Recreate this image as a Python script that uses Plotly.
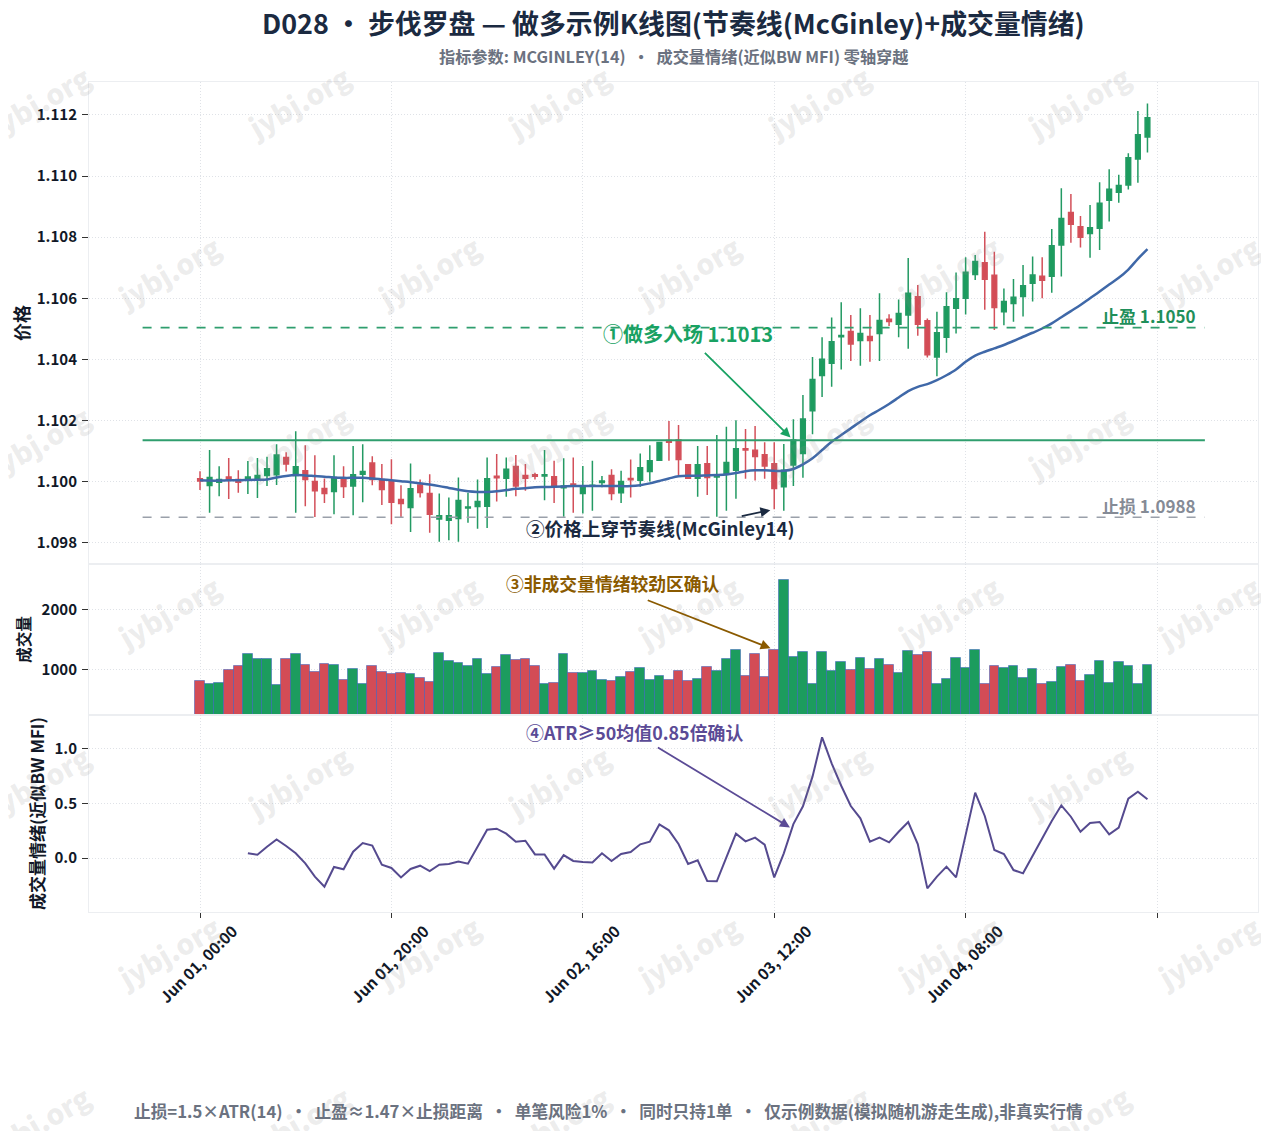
import plotly.graph_objects as go
from plotly.subplots import make_subplots

FONT = "Noto Sans CJK SC"

opens = [1.10009,1.09987,1.09998,1.10015,1.10007,1.10007,1.10007,1.10020,1.10022,1.10079,
1.10020,1.10035,1.10000,1.09977,1.09967,1.10008,1.09985,1.10024,1.10061,1.10007,
1.10000,1.09941,1.09915,1.09989,1.09961,1.09877,1.09873,1.09879,1.09913,1.09918,
1.09919,1.10017,1.10011,1.10049,1.10020,1.10022,1.10018,1.10016,1.09980,1.09992,
1.09961,1.09985,1.09997,1.10020,1.09963,1.10010,1.10004,1.10033,1.10070,1.10134,
1.10136,1.10055,1.10011,1.10058,1.10015,1.10024,1.10037,1.10107,1.10102,1.10088,
1.10058,1.09983,1.10054,1.10092,1.10232,1.10347,1.10387,1.10474,1.10491,1.10462,
1.10475,1.10485,1.10531,1.10515,1.10545,1.10605,1.10526,1.10408,1.10472,1.10567,
1.10600,1.10678,1.10716,1.10675,1.10556,1.10583,1.10606,1.10649,1.10672,1.10672,
1.10774,1.10881,1.10834,1.10812,1.10829,1.10921,1.10947,1.10971,1.11056,1.11128]
closes = [1.10002,1.10013,1.10007,1.10004,1.09998,1.10015,1.10020,1.10042,1.10087,1.10057,
1.10048,1.10007,1.09970,1.09961,1.10013,1.09984,1.10022,1.10033,1.10007,1.09974,
1.09932,1.09928,1.09976,1.09964,1.09893,1.09888,1.09888,1.09938,1.09917,1.09935,
1.10009,1.10012,1.10040,1.09985,1.10011,1.10017,1.10022,1.09983,1.09985,1.09987,
1.09985,1.09988,1.10002,1.09961,1.10000,1.10006,1.10045,1.10068,1.10128,1.10129,
1.10072,1.10011,1.10055,1.10013,1.10021,1.10062,1.10107,1.10103,1.10082,1.10051,
1.09977,1.10037,1.10136,1.10205,1.10334,1.10400,1.10458,1.10478,1.10450,1.10485,
1.10462,1.10527,1.10524,1.10550,1.10616,1.10515,1.10415,1.10487,1.10572,1.10598,
1.10685,1.10720,1.10662,1.10570,1.10589,1.10603,1.10641,1.10676,1.10659,1.10772,
1.10861,1.10842,1.10800,1.10831,1.10911,1.10957,1.10969,1.11060,1.11135,1.11191]
highs = [1.10034,1.10103,1.10050,1.10077,1.10037,1.10067,1.10077,1.10081,1.10122,1.10096,
1.10165,1.10119,1.10086,1.10010,1.10086,1.10050,1.10116,1.10122,1.10083,1.10057,
1.10073,1.09988,1.10059,1.10007,1.10024,1.09961,1.09948,1.10013,1.09963,1.10007,
1.10079,1.10090,1.10079,1.10087,1.10057,1.10029,1.10103,1.10068,1.10076,1.10079,
1.10051,1.10068,1.10018,1.10040,1.10035,1.10072,1.10092,1.10119,1.10130,1.10198,
1.10185,1.10055,1.10116,1.10116,1.10152,1.10179,1.10201,1.10172,1.10182,1.10129,
1.10129,1.10123,1.10204,1.10283,1.10408,1.10472,1.10537,1.10587,1.10545,1.10567,
1.10545,1.10616,1.10548,1.10596,1.10732,1.10643,1.10534,1.10556,1.10620,1.10684,
1.10734,1.10742,1.10818,1.10752,1.10632,1.10663,1.10709,1.10737,1.10734,1.10827,
1.10960,1.10941,1.10869,1.10905,1.10980,1.11022,1.11004,1.11075,1.11213,1.11238]
lows = [1.09972,1.09898,1.09952,1.09943,1.09963,1.09959,1.09946,1.09985,1.09989,1.10033,
1.09898,1.09919,1.09884,1.09930,1.09893,1.09946,1.09890,1.09932,1.09988,1.09923,
1.09860,1.09882,1.09835,1.09948,1.09832,1.09803,1.09808,1.09803,1.09865,1.09845,
1.09848,1.09935,1.09950,1.09952,1.09970,1.10007,1.09939,1.09930,1.09885,1.09898,
1.09895,1.09904,1.09981,1.09939,1.09930,1.09948,1.09983,1.10000,1.10068,1.10068,
1.10020,1.10009,1.09950,1.09956,1.09885,1.09904,1.09944,1.10009,1.10003,1.10009,
1.09909,1.09904,1.09985,1.10012,1.10155,1.10277,1.10310,1.10367,1.10395,1.10379,
1.10392,1.10395,1.10509,1.10472,1.10435,1.10477,1.10406,1.10345,1.10422,1.10485,
1.10547,1.10660,1.10562,1.10496,1.10512,1.10523,1.10540,1.10589,1.10600,1.10618,
1.10671,1.10782,1.10766,1.10733,1.10758,1.10851,1.10913,1.10956,1.10978,1.11077]
mcginley = [1.10004,1.10003,1.10003,1.10004,1.10004,1.10005,1.10006,1.10007,1.10013,1.10018,
1.10021,1.10020,1.10018,1.10016,1.10013,1.10012,1.10012,1.10012,1.10010,1.10007,
1.10004,1.10001,1.09998,1.09994,1.09990,1.09985,1.09979,1.09973,1.09968,1.09966,
1.09966,1.09968,1.09972,1.09976,1.09978,1.09981,1.09982,1.09983,1.09984,1.09985,
1.09985,1.09985,1.09985,1.09985,1.09985,1.09985,1.09988,1.09994,1.10002,1.10010,
1.10017,1.10019,1.10019,1.10020,1.10021,1.10023,1.10028,1.10034,1.10037,1.10037,
1.10035,1.10035,1.10041,1.10056,1.10076,1.10103,1.10130,1.10152,1.10174,1.10196,
1.10217,1.10235,1.10254,1.10275,1.10296,1.10310,1.10319,1.10332,1.10348,1.10367,
1.10392,1.10412,1.10425,1.10436,1.10447,1.10460,1.10474,1.10487,1.10501,1.10518,
1.10538,1.10558,1.10578,1.10600,1.10622,1.10645,1.10667,1.10694,1.10729,1.10761]
volume = [808,769,786,991,1063,1269,1186,1186,752,1186,
1269,1086,969,1102,1086,836,1019,769,1069,969,
936,952,936,869,802,1286,1152,1119,1069,1186,
936,1052,1252,1169,1186,1069,769,786,1269,952,
952,986,836,819,886,969,1036,836,902,836,
986,819,852,1052,986,1186,1336,902,1269,886,
1336,2502,1219,1302,769,1302,986,1136,1002,1202,
1019,1186,1086,952,1319,1252,1302,769,852,1202,
1036,1336,769,1069,1036,1069,869,1019,769,802,
1052,1086,819,919,1152,786,1136,1069,769,1086]
sentiment = [None,None,None,None,None,0.043,0.030,0.103,0.170,0.110,
0.043,-0.049,-0.170,-0.262,-0.082,-0.103,0.058,0.137,0.113,-0.061,
-0.091,-0.177,-0.100,-0.070,-0.119,-0.061,-0.055,-0.033,-0.052,0.103,
0.259,0.268,0.222,0.149,0.158,0.033,0.032,-0.097,0.027,-0.027,
-0.037,-0.040,0.043,-0.027,0.037,0.055,0.125,0.149,0.307,0.253,
0.128,-0.055,-0.021,-0.210,-0.213,0.006,0.222,0.152,0.186,0.122,
-0.177,0.043,0.310,0.472,0.743,1.102,0.865,0.660,0.475,0.362,
0.149,0.186,0.143,0.240,0.329,0.128,-0.277,-0.170,-0.079,-0.177,
0.225,0.597,0.384,0.073,0.037,-0.110,-0.140,0.018,0.189,0.338,
0.481,0.377,0.240,0.320,0.329,0.216,0.277,0.542,0.606,0.536]

tick_positions = [0, 20, 40, 60, 80, 100]
tick_labels = ["Jun 01, 00:00", "Jun 01, 20:00", "Jun 02, 16:00", "Jun 03, 12:00", "Jun 04, 08:00", ""]
price_ticks = [1.098, 1.100, 1.102, 1.104, 1.106, 1.108, 1.110, 1.112]
entry_price, stop_price, target_price = 1.10135, 1.09883, 1.10504
level_span = [-6, 105]
bars = list(range(len(opens)))

GREEN, RED = "#1c9c5e", "#d34c56"
GRID = "#dfe2e7"
BORDER = "#eceef1"
TICK = "#111827"

fig = make_subplots(rows=3, cols=1, shared_xaxes=True, vertical_spacing=0,
                    row_heights=[482, 151, 197])

fig.add_trace(go.Candlestick(x=bars, open=opens, high=highs, low=lows, close=closes,
    increasing=dict(line=dict(color="#239a63", width=1.5), fillcolor=GREEN),
    decreasing=dict(line=dict(color="#d3505a", width=1.5), fillcolor=RED),
    name="K线", showlegend=False), row=1, col=1)
fig.add_trace(go.Scatter(x=bars, y=mcginley, mode="lines", line=dict(color="#3f68a8", width=2.5, shape="spline"),
                         showlegend=False), row=1, col=1)
fig.add_trace(go.Scatter(x=level_span, y=[entry_price]*2, mode="lines", line=dict(color="#2f9e6e", width=2),
                         showlegend=False), row=1, col=1)
fig.add_trace(go.Scatter(x=level_span, y=[target_price]*2, mode="lines", line=dict(color="#2f9e6e", width=1.7, dash="dash"),
                         showlegend=False), row=1, col=1)
fig.add_trace(go.Scatter(x=level_span, y=[stop_price]*2, mode="lines", line=dict(color="#9aa0aa", width=1.7, dash="dash"),
                         showlegend=False), row=1, col=1)

bar_colors = [GREEN if c >= o else RED for o, c in zip(opens, closes)]
fig.add_trace(go.Bar(x=bars, y=volume, marker=dict(color=bar_colors, line=dict(color="rgba(50,90,190,0.5)", width=1)),
                     showlegend=False), row=2, col=1)
fig.add_trace(go.Scatter(x=bars, y=sentiment, mode="lines", line=dict(color="#554a8f", width=2),
                         showlegend=False), row=3, col=1)

# the page body has an 8px margin, so the figure sits at (8, 8) in the window
fig.update_layout(width=1261, height=1123, autosize=False,
    margin=dict(l=81, r=11, t=74, b=219),
    paper_bgcolor="white", plot_bgcolor="white", bargap=0,
    font=dict(family=FONT, size=15, color=TICK), showlegend=False)

axis_common = dict(showgrid=True, gridcolor=GRID, griddash="1px,2px", gridwidth=1, zeroline=False,
                   showline=True, linecolor=BORDER, linewidth=1, mirror=True, automargin=False)
for r in (1, 2, 3):
    fig.update_xaxes(range=[-11.6, 110.55], tickmode="array", tickvals=tick_positions, ticktext=tick_labels,
                     rangeslider=dict(visible=False), row=r, col=1, **axis_common)
fig.update_xaxes(ticks="outside", ticklen=5, tickcolor="#333", tickangle=-45, ticklabelshift=33, ticklabelstandoff=-2,
                 tickfont=dict(family=FONT, size=15.6, color=TICK, weight=700), row=3, col=1)

tf = dict(family=FONT, size=15, color=TICK, weight=700)
fig.update_yaxes(range=[1.09730, 1.11308], tickmode="array", tickvals=price_ticks, tickformat=".3f",
                 ticks="outside", ticklen=6, tickcolor="#333", tickfont=tf, ticklabelstandoff=2,
                 title=dict(text="价格", standoff=13, font=dict(family=FONT, size=18, color=TICK, weight=700)),
                 row=1, col=1, **axis_common)
fig.update_yaxes(range=[250, 2760], tickmode="array", tickvals=[1000, 2000],
                 ticks="outside", ticklen=6, tickcolor="#333", tickfont=tf, ticklabelstandoff=2,
                 title=dict(text="成交量", standoff=7, font=dict(family=FONT, size=15.7, color=TICK, weight=700)),
                 row=2, col=1, **axis_common)
fig.update_yaxes(range=[-0.493, 1.306], tickmode="array", tickvals=[0, 0.5, 1.0], tickformat=".1f",
                 ticks="outside", ticklen=6, tickcolor="#333", tickfont=tf, ticklabelstandoff=2,
                 title=dict(text="成交量情绪(近似BW MFI)", standoff=5, font=dict(family=FONT, size=17, color=TICK, weight=700)),
                 row=3, col=1, **axis_common)

PW, PH = 1169.0, 830.0
def px(x): return (x - 89) / PW
def py(y): return (912 - y) / PH

anns = []
# watermark grid
for row, cy in enumerate([102, 272, 442, 612, 782, 952, 1122]):
    xs = [38, 298, 558, 818, 1078] if row % 2 == 0 else [168, 428, 688, 948, 1208]
    for cx in xs:
        anns.append(dict(text="jybj.org", xref="paper", yref="paper", x=px(cx), y=py(cy), showarrow=False,
                         textangle=-30, xanchor="center", yanchor="middle",
                         font=dict(family=FONT, size=28, color="rgba(140,140,140,0.17)", weight=900)))

def text(t, x, y, size, color, weight=700):
    anns.append(dict(text=t, xref="paper", yref="paper", x=px(x), y=py(y), showarrow=False,
                     xanchor="center", yanchor="middle", font=dict(family=FONT, size=size, color=color, weight=weight)))

text("D028 · 步伐罗盘 — 做多示例K线图(节奏线(McGinley)+成交量情绪)", 673, 23, 26.9, "#1b2a41")
text("指标参数: MCGINLEY(14)  ·  成交量情绪(近似BW MFI) 零轴穿越", 673, 56, 16.2, "#6b7280")
text("止损=1.5×ATR(14)  ·  止盈≈1.47×止损距离  ·  单笔风险1%  ·  同时只持1单  ·  仅示例数据(模拟随机游走生成),非真实行情", 608, 1110.5, 16.7, "#6b7280")

anns.append(dict(text="止盈 1.1050", x=104.3, y=target_price, xref="x", yref="y", showarrow=False, xanchor="right",
                 yanchor="bottom", yshift=-2, font=dict(family=FONT, size=17, color="#1f8f5a", weight=700)))
anns.append(dict(text="止损 1.0988", x=104.3, y=stop_price, xref="x", yref="y", showarrow=False, xanchor="right",
                 yanchor="bottom", yshift=-3, font=dict(family=FONT, size=17, color="#858b96", weight=700)))

def arrow(x, y, xref, yref, ax, ay, color):
    anns.append(dict(text=" ", x=x, y=y, xref=xref, yref=yref, ax=ax, ay=ay, axref="pixel", ayref="pixel",
                     showarrow=True, arrowhead=2, arrowsize=1.1, arrowwidth=1.8, arrowcolor=color, standoff=4,
                     font=dict(family=FONT, size=1, color=color)))

text("①做多入场 1.1013", 688, 333, 20, "#19a263")
arrow(62, entry_price, "x", "y", -90, -89, "#19a263")
text("②价格上穿节奏线(McGinley14)", 660, 527.5, 18.6, "#1b2a41")
arrow(60, 1.09909, "x", "y", -34, 7, "#1b2a41")
text("③非成交量情绪较劲区确认", 613, 583, 17.8, "#8a5a00")
arrow(60, 1336, "x2", "y2", -128, -50, "#8a5a00")
text("④ATR≥50均值0.85倍确认", 634, 732, 17.9, "#5b4b96")
arrow(62, 0.26, "x3", "y3", -137, -83, "#5b4b96")

fig.update_layout(annotations=anns)
fig.write_html("out.html")
